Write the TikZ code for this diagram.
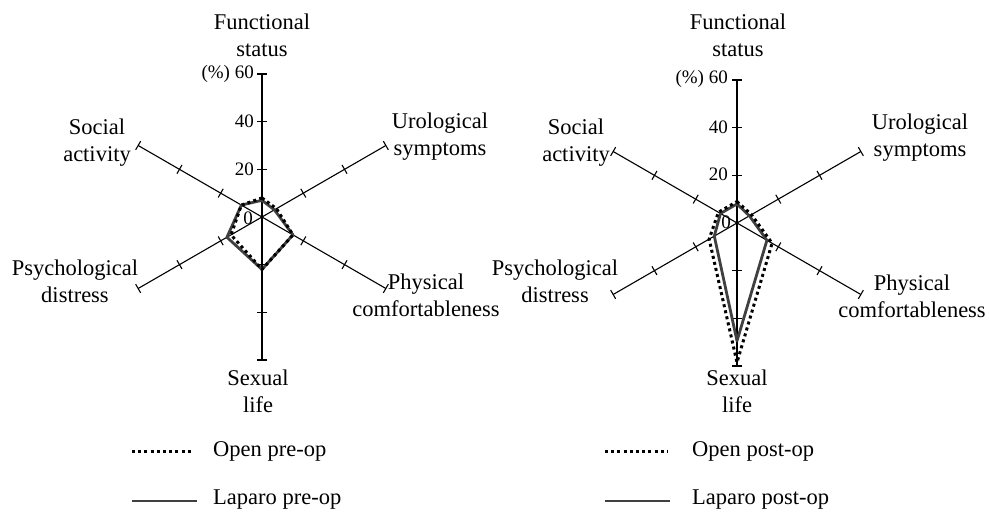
\documentclass[tikz,border=0pt]{standalone}
\usepackage{fontspec}
\setmainfont{Liberation Serif}
\begin{document}
\begin{tikzpicture}[x=1pt,y=1pt,
  axisline/.style={line width=1.1pt},
  lbl/.style={font=\fontsize{22.5}{27}\selectfont, align=center, inner sep=0pt},
  num/.style={font=\fontsize{19}{22}\selectfont, inner sep=0pt},
  legtext/.style={font=\fontsize{22.5}{27}\selectfont, inner sep=0pt, anchor=base west},
  openline/.style={line width=3pt, dash pattern=on 3pt off 3.2pt, line join=miter},
  laparoline/.style={line width=2.8pt, black!75, line join=round}]
\useasboundingbox (0,0) rectangle (989,516);
\def\k{2.383}
% ---------------- left chart ----------------
\begin{scope}[shift={(262,299)}]
  \coordinate (LC) at (0,0);
  \foreach \a in {90,30,-30,-90,210,150} {
    \draw[axisline] (LC) -- (\a:143);
    \foreach \r in {47.7,95.3,143}
      \draw[axisline] (\a:\r) ++(\a+90:5) -- ++(\a-90:10);
  }
  \draw[laparoline] (90:{7*\k}) -- (30:{6*\k}) -- (-30:{15*\k}) -- (-90:{22*\k}) -- (210:{17*\k}) -- (150:{10*\k}) -- cycle;
  \draw[openline] (90:{8*\k}) -- (30:{7*\k}) -- (-30:{15*\k}) -- (-90:{22*\k}) -- (210:{15*\k}) -- (150:{10*\k}) -- cycle;
  \node[num, anchor=east] (L0) at (-9,-1) {0};
  \node[num, anchor=east] (L20) at (-8,47.7) {20};
  \node[num, anchor=east] (L40) at (-8,95.3) {40};
  \node[num, anchor=east] (L60) at (-8,143) {(\%) 60};
\end{scope}
\node[lbl] (Lfun) at (262,481) {Functional\\status};
\node[lbl] (Lsoc) at (97,373) {Social\\activity};
\node[lbl] (Luro) at (440,379) {Urological\\symptoms};
\node[lbl] (Lpsy) at (75,235) {Psychological\\distress};
\node[lbl] (Lphy) at (426,221) {Physical\\comfortableness};
\node[lbl] (Lsex) at (258,125) {Sexual\\life};
% legend left
\coordinate (LlegA1) at (132,64);
\coordinate (LlegA2) at (193,64);
\draw[openline] (LlegA1) -- (LlegA2);
\node[legtext] (LlegAt) at (213,59) {Open pre-op};
\coordinate (LlegB1) at (132,15);
\coordinate (LlegB2) at (197,15);
\draw[laparoline] (LlegB1) -- (LlegB2);
\node[legtext] (LlegBt) at (213,11) {Laparo pre-op};
% ---------------- right chart ----------------
\begin{scope}[shift={(737,293)}]
  \coordinate (RC) at (0,0);
  \foreach \a in {90,30,-30,-90,210,150} {
    \draw[axisline] (RC) -- (\a:143);
    \foreach \r in {47.7,95.3,143}
      \draw[axisline] (\a:\r) ++(\a+90:5) -- ++(\a-90:10);
  }
  \draw[laparoline] (90:{8*\k}) -- (30:{6*\k}) -- (-30:{14.5*\k}) -- (-90:{49.5*\k}) -- (210:{11*\k}) -- (150:{8*\k}) -- cycle;
  \draw[openline] (90:{9*\k}) -- (30:{7*\k}) -- (-30:{17*\k}) -- (-90:{58.5*\k}) -- (210:{13.5*\k}) -- (150:{9*\k}) -- cycle;
  \node[num, anchor=east] (R0) at (-6,1) {0};
  \node[num, anchor=east] (R20) at (-9,48.5) {20};
  \node[num, anchor=east] (R40) at (-9,96) {40};
  \node[num, anchor=east] (R60) at (-9,144) {(\%) 60};
\end{scope}
\node[lbl] (Rfun) at (738,481) {Functional\\status};
\node[lbl] (Rsoc) at (576,373) {Social\\activity};
\node[lbl] (Ruro) at (920,378) {Urological\\symptoms};
\node[lbl] (Rpsy) at (555,235) {Psychological\\distress};
\node[lbl] (Rphy) at (912,220) {Physical\\comfortableness};
\node[lbl] (Rsex) at (737,125) {Sexual\\life};
% legend right
\coordinate (RlegA1) at (605,64);
\coordinate (RlegA2) at (668,64);
\draw[openline] (RlegA1) -- (RlegA2);
\node[legtext] (RlegAt) at (692,59) {Open post-op};
\coordinate (RlegB1) at (605,15);
\coordinate (RlegB2) at (670,15);
\draw[laparoline] (RlegB1) -- (RlegB2);
\node[legtext] (RlegBt) at (692,11) {Laparo post-op};
\end{tikzpicture}
\end{document}
